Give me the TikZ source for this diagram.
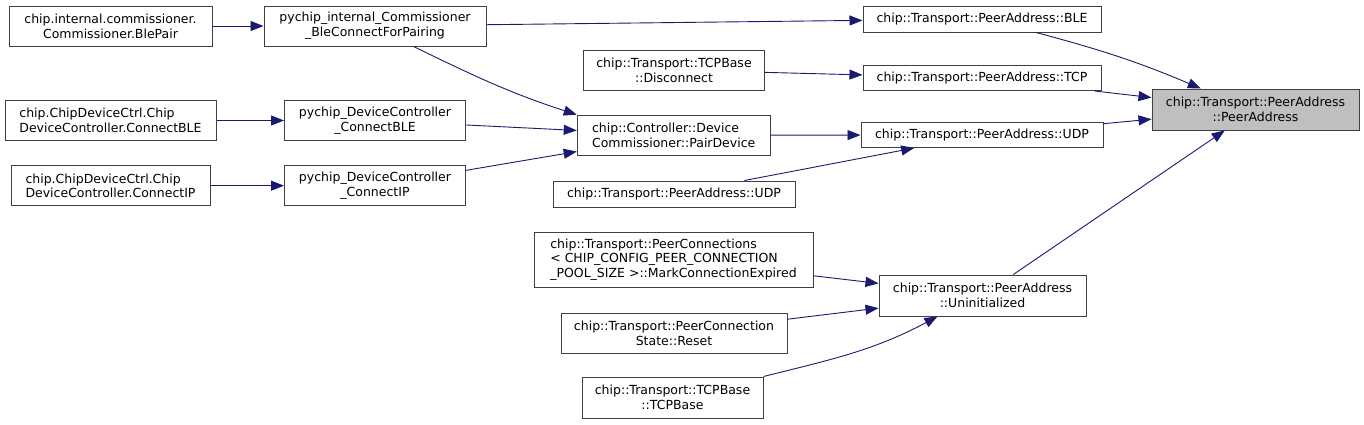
\documentclass[tikz,border=0pt]{standalone}
\usepackage{fontspec}
\setmainfont{DejaVu Sans}
\usepackage{tikz}
\usetikzlibrary{arrows.meta}
\definecolor{edgeblue}{HTML}{191970}
\definecolor{boxline}{HTML}{404040}
\definecolor{targetfill}{HTML}{BFBFBF}

\begin{document}
\begin{tikzpicture}[
  x=1pt, y=1pt,
  fn/.style={draw=boxline, fill=white, line width=1pt, inner sep=0pt, align=center, font=\fontsize{12.5}{14.7}\selectfont},
  fnl/.style={fn, align=left},
  tgt/.style={fn, fill=targetfill},
  sz/.style 2 args={minimum width=#1pt, minimum height=#2pt},
  call/.style={edgeblue, line width=0.9pt, -{Triangle[length=13pt, width=10pt]}}
]
\useasboundingbox (0,0) rectangle (1364,-424);

% ---- python entry points ----
\node[fn, sz={203}{40}]  (blepair) at (110.5,-26)  {chip.internal.commissioner.\\Commissioner.BlePair};
\node[fnl, sz={211}{40}] (ctrlble) at (110.5,-120.5) {chip.ChipDeviceCtrl.Chip\\DeviceController.ConnectBLE};
\node[fnl, sz={199}{40}] (ctrlip)  at (110.5,-185.7) {chip.ChipDeviceCtrl.Chip\\DeviceController.ConnectIP};

% ---- C bindings ----
\node[fn, sz={222}{40}] (bleconn) at (375,-26)    {pychip\_internal\_Commissioner\\\_BleConnectForPairing};
\node[fn, sz={181}{40}] (pyble)   at (375,-120.5) {pychip\_DeviceController\\\_ConnectBLE};
\node[fn, sz={181}{40}] (pyip)    at (375,-185.7) {pychip\_DeviceController\\\_ConnectIP};

% ---- middle column ----
\node[fn, sz={181}{40}]  (disconn) at (674,-70)     {chip::Transport::TCPBase\\::Disconnect};
\node[fnl, sz={193}{40}] (pairdev) at (673.7,-135.2) {chip::Controller::Device\\Commissioner::PairDevice};
\node[fn, sz={242}{26}]  (udplow)  at (674,-194)    {chip::Transport::PeerAddress::UDP};
\node[fnl, sz={279}{55}] (markexp) at (673.5,-259.5) {chip::Transport::PeerConnections\\< CHIP\_CONFIG\_PEER\_CONNECTION\\\_POOL\_SIZE >::MarkConnectionExpired};
\node[fn, sz={226}{40}]  (reset)   at (674,-333)    {chip::Transport::PeerConnection\\State::Reset};
\node[fn, sz={181}{41}]  (tcpbase) at (672.5,-397.5) {chip::Transport::TCPBase\\::TCPBase};

% ---- PeerAddress factories ----
\node[fn, sz={238}{26}] (ble)    at (982,-19)     {chip::Transport::PeerAddress::BLE};
\node[fn, sz={238}{25}] (tcp)    at (982,-78)     {chip::Transport::PeerAddress::TCP};
\node[fn, sz={242}{25}] (udp)    at (982,-135)    {chip::Transport::PeerAddress::UDP};
\node[fn, sz={207}{41}] (uninit) at (982.5,-295.5) {chip::Transport::PeerAddress\\::Uninitialized};

% ---- the constructor itself ----
\node[tgt, sz={207}{41}] (peer) at (1255.5,-109.5) {chip::Transport::PeerAddress\\::PeerAddress};

% ---- calls ----
\draw[call] (blepair) -- (bleconn);
\draw[call] (ctrlble) -- (pyble);
\draw[call] (ctrlip) -- (pyip);
\draw[call] (bleconn) -- (ble);
\draw[call] (bleconn.-28) to[out=-26, in=162] (pairdev.north west);
\draw[call] (pyble) -- (pairdev);
\draw[call] (pyip) -- (pairdev);
\draw[call] (disconn) -- (tcp);
\draw[call] (pairdev) -- (udp);
\draw[call] (udplow) -- (udp);
\draw[call] (markexp) -- (uninit);
\draw[call] (reset) -- (uninit);
\draw[call] (tcpbase.north east) to[out=14, in=-152] (uninit.-155);

% into the constructor
\draw[call] (ble.-14) to[out=-15, in=157] (peer.159);
\draw[call] (tcp) -- (peer);
\draw[call] (udp) -- (peer);
\draw[call] (uninit) -- (peer);
\end{tikzpicture}
\end{document}
